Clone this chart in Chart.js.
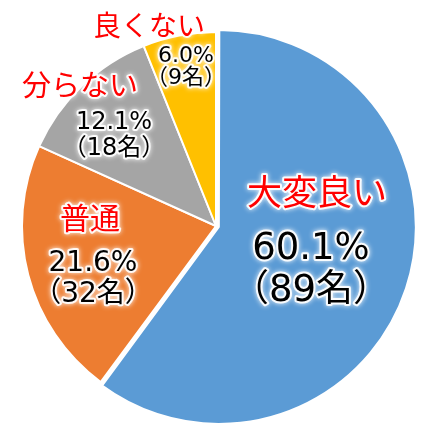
<!DOCTYPE html>
<html>
<head>
<meta charset="utf-8">
<script src="https://cdn.jsdelivr.net/npm/chart.js@4.4.1/dist/chart.umd.min.js"></script>
<style>
html,body{margin:0;padding:0;background:#fff;}
#wrap{width:440px;height:440px;}
</style>
</head>
<body>
<div id="wrap"><canvas id="c" width="440" height="440"></canvas></div>
<script>
// ---- data ----
const categories = ['大変良い', '普通', '分らない', '良くない'];
const counts = [89, 32, 18, 9];
const percents = ['60.1%', '21.6%', '12.1%', '6.0%'];
const countLabels = ['（89名）', '（32名）', '（18名）', '（9名）'];

// ---- styles ----
const colors = ['#5B9BD5', '#ED7D31', '#A5A5A5', '#FFC000'];
const offsets = [12, 0, 0, 0];
// label layout: offsets from pie centre (px), font sizes, line gap
const labelLayout = [
  {name:[101,-34], nameSize:35, val:[95,23], valSize:37, gap:42},
  {name:[-126,-8], nameSize:30, val:[-123,38], valSize:28, gap:31},
  {name:[-136,-141], nameSize:29, val:[-102,-103], valSize:24, gap:26},
  {name:[-67,-201], nameSize:28, val:[-30,-170], valSize:22, gap:22}
];
const FONT = '"DejaVu Sans", "Noto Sans CJK JP", sans-serif';
const CJK_FONT = '"Noto Sans CJK JP", sans-serif';

function glowText(ctx, text, x, y, size, color, family) {
  ctx.save();
  ctx.font = size + 'px ' + family;
  ctx.textAlign = 'center';
  ctx.textBaseline = 'middle';
  ctx.lineJoin = 'round';
  ctx.strokeStyle = 'rgba(255,255,255,0.9)';
  ctx.shadowColor = '#ffffff';
  ctx.shadowBlur = 5;
  ctx.lineWidth = 4;
  ctx.strokeText(text, x, y);
  ctx.shadowBlur = 0;
  ctx.fillStyle = color;
  ctx.fillText(text, x, y);
  ctx.restore();
}

const labelPlugin = {
  id: 'sliceLabels',
  afterDatasetsDraw(chart) {
    const ctx = chart.ctx;
    const meta = chart.getDatasetMeta(0);
    meta.data.forEach((arc, i) => {
      const cx = arc.x, cy = arc.y;
      const L = labelLayout[i];
      glowText(ctx, categories[i], cx + L.name[0], cy + L.name[1], L.nameSize, '#FF0000', CJK_FONT);
      glowText(ctx, percents[i], cx + L.val[0], cy + L.val[1], L.valSize, '#000000', FONT);
      glowText(ctx, countLabels[i], cx + L.val[0], cy + L.val[1] + L.gap, L.valSize, '#000000', FONT);
    });
  }
};

new Chart(document.getElementById('c'), {
  type: 'pie',
  data: {
    labels: categories,
    datasets: [{
      data: counts,
      backgroundColor: colors,
      borderColor: '#ffffff',
      borderWidth: 2,
      offset: offsets
    }]
  },
  options: {
    responsive: false,
    animation: false,
    radius: 194,
    layout: {padding: {left: 0, right: 8, top: 12, bottom: 0}},
    plugins: {legend: {display: false}, tooltip: {enabled: false}}
  },
  plugins: [labelPlugin]
});
</script>
</body>
</html>
